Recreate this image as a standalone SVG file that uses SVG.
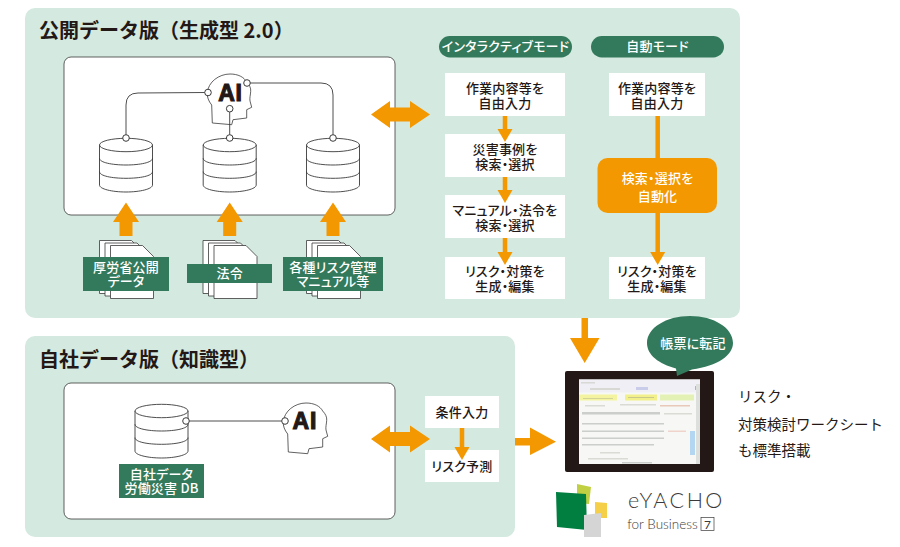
<svg xmlns="http://www.w3.org/2000/svg" xmlns:xlink="http://www.w3.org/1999/xlink" width="900" height="547" viewBox="0 0 900 547">
<style>
text{font-family:"Noto Sans CJK JP","Noto Sans",sans-serif;text-anchor:middle}
.panel{fill:#d4e9e0}
.white{fill:#fff;stroke:#3a3a3a;stroke-width:.8}
.box{fill:#fff}
.t{font-size:13px;font-weight:500;fill:#231815;font-feature-settings:"palt";letter-spacing:.2px}
.w{font-size:13px;font-weight:500;fill:#fff;font-feature-settings:"palt";letter-spacing:.2px}
.title{font-size:20px;font-weight:700;fill:#231815;text-anchor:start}
.label{fill:#337a5c}
.o{fill:#f39800}
.ol{stroke:#f39800;stroke-width:4.5;fill:none}
.ln{fill:none;stroke:#3a3a3a;stroke-width:.9}
.pt{fill:#fff;stroke:#3a3a3a;stroke-width:1}
.db{fill:#fff;stroke:#3a3a3a;stroke-width:.9}
.doc{fill:#fff;stroke:#3a3a3a;stroke-width:.8}
.ai{font-family:"Liberation Sans",sans-serif;font-size:23px;font-weight:700;fill:#231815;stroke:#231815;stroke-width:1.1;letter-spacing:.8px}
.side{font-size:14.500px;fill:#231815;text-anchor:start}
.r{fill:#8a8f8a;opacity:.4}
.c{fill:#c8c8c0;opacity:.6}
</style>
<defs>
<g id="dbs">
<path class="db" d="M-26.5 7V47C-26.5 51 -14 54 0 54S26.5 51 26.5 47V7Z"/>
<ellipse class="db" cx="0" cy="7" rx="26.5" ry="6.7"/>
<path class="ln" d="M-26.5 20.3C-26.5 24.5 -14 27 0 27S26.5 24.5 26.5 20.3M-26.5 33.6C-26.5 38 -14 40.3 0 40.3S26.5 38 26.5 33.6"/>
</g>
<path id="head" class="doc" d="M212.300 123L211.700 105C208.500 101 207 97 207.300 93C208 82 219 74 230 74C238 74 244 77 246.700 82C249.500 85 251 88 250.700 91.300C250.500 95 249.500 98 250 101L251.700 107.300L246.700 109.700L246.700 118L233 119.700L231.700 124.700Z"/>
<path id="paper" class="doc" d="M0 0H32L43 11V53H0Z"/>
<g id="docs">
<use xlink:href="#paper" x="0" y="0"/>
<use xlink:href="#paper" x="5.500" y="2.500"/>
<use xlink:href="#paper" x="11" y="5"/>
</g>
<path id="up" class="o" d="M0 0L13 19.500H6.500V33.500H-6.500V19.500H-13Z"/>
<path id="dbl" class="o" d="M0 13.500L19 0V6.500H39V0L59 13.500L39 27V20.500H19V27Z"/>
<path id="dn" class="o" d="M-7.500 0H7.500L0 13Z"/>
</defs>

<g id="panel-public">
<rect class="panel" x="25" y="8" width="715" height="310" rx="10"/>
<text class="title" x="39" y="38">公開データ版（生成型 2.0）</text>
<rect class="white" x="64" y="57" width="331" height="158" rx="7"/>
</g>
<g id="panel-own">
<rect class="panel" x="25" y="336" width="490" height="201" rx="10"/>
<text class="title" x="39" y="367">自社データ版（知識型）</text>
<rect class="white" x="64" y="383" width="331" height="136" rx="7"/>
</g>

<g id="ai-public">
<use xlink:href="#head"/>
<text class="ai" x="230.500" y="101">AI</text>
<circle class="pt" cx="208" cy="92.500" r="3.300"/>
<circle class="pt" cx="229.700" cy="108.700" r="3.300"/>
<circle class="pt" cx="247" cy="83" r="3.300"/>
</g>
<g id="db-1"><use xlink:href="#dbs" x="126" y="138"/><circle class="pt" cx="126" cy="138" r="3.300"/></g>
<g id="db-2"><use xlink:href="#dbs" x="229.700" y="138"/><circle class="pt" cx="229.700" cy="138" r="3.300"/></g>
<g id="db-3"><use xlink:href="#dbs" x="333" y="138"/><circle class="pt" cx="333" cy="138" r="3.300"/></g>

<g id="doc-1">
<use xlink:href="#docs" x="99.500" y="240.500"/>
<rect class="label" x="83" y="257" width="86" height="34"/>
<text class="w"><tspan x="126" y="271.500">厚労省公開</tspan><tspan x="126" y="286">データ</tspan></text>
</g>
<g id="doc-2">
<use xlink:href="#docs" x="203" y="240.500"/>
<rect class="label" x="187" y="264" width="85" height="19"/>
<text class="w" x="229.700" y="278">法令</text>
</g>
<g id="doc-3">
<use xlink:href="#docs" x="306.500" y="240.500"/>
<rect class="label" x="283" y="257" width="100" height="34"/>
<text class="w"><tspan x="333" y="271.500">各種リスク管理</tspan><tspan x="333" y="286">マニュアル等</tspan></text>
</g>

<g id="mode-interactive"><rect class="label" x="439" y="36" width="133" height="21.500" rx="10.700"/><text class="w" x="505.500" y="51">インタラクティブモード</text></g>
<g id="mode-auto"><rect class="label" x="591" y="36" width="133" height="21.500" rx="10.700"/><text class="w" x="657.500" y="51">自動モード</text></g>

<g id="i1"><rect class="box" x="445" y="73" width="120" height="43"/><text class="t"><tspan x="505" y="93">作業内容等を</tspan><tspan x="505" y="108">自由入力</tspan></text></g>
<g id="i2"><rect class="box" x="445" y="134" width="120" height="43"/><text class="t"><tspan x="505" y="154">災害事例を</tspan><tspan x="505" y="169">検索・選択</tspan></text></g>
<g id="i3"><rect class="box" x="445" y="195" width="120" height="43"/><text class="t"><tspan x="505" y="215">マニュアル・法令を</tspan><tspan x="505" y="230">検索・選択</tspan></text></g>
<g id="i4"><rect class="box" x="445" y="257" width="120" height="42"/><text class="t"><tspan x="505" y="276">リスク・対策を</tspan><tspan x="505" y="291">生成・編集</tspan></text></g>

<g id="a1"><rect class="box" x="609" y="73" width="96" height="43"/><text class="t"><tspan x="657" y="93">作業内容等を</tspan><tspan x="657" y="108">自由入力</tspan></text></g>
<g id="a2"><rect class="o" x="597.500" y="158" width="119.500" height="55" rx="10"/><text class="w"><tspan x="657.500" y="183">検索・選択を</tspan><tspan x="657.500" y="201">自動化</tspan></text></g>
<g id="a3"><rect class="box" x="609" y="257" width="96" height="42"/><text class="t"><tspan x="657" y="276">リスク・対策を</tspan><tspan x="657" y="291">生成・編集</tspan></text></g>

<g id="db-own">
<use xlink:href="#dbs" x="161.500" y="404"/>
<circle class="pt" cx="186" cy="421" r="3.300"/>
<rect class="label" x="119" y="464" width="85" height="34"/>
<text class="w"><tspan x="161.500" y="478.500">自社データ</tspan><tspan x="161.500" y="493">労働災害 DB</tspan></text>
</g>
<g id="ai-own">
<use xlink:href="#head" x="76" y="329"/>
<text class="ai" x="304.800" y="428.500">AI</text>
<circle class="pt" cx="285" cy="421" r="3.300"/>
</g>
<g id="b1"><rect class="box" x="425" y="396" width="74" height="32"/><text class="t" x="462" y="417">条件入力</text></g>
<g id="b2"><rect class="box" x="425" y="450" width="74" height="32"/><text class="t" x="462" y="471">リスク予測</text></g>

<g id="tablet">
<rect x="565" y="371" width="149" height="101" rx="2" fill="#231815"/>
<rect x="579" y="379.500" width="121" height="84.500" fill="#f7f8f5"/>
<rect x="579" y="379.500" width="121" height="13" fill="#f0eff6"/>
<rect class="c" x="581" y="382" width="14" height="1.500"/>
<rect class="c" x="590" y="388" width="30" height="2"/>
<rect x="636" y="387" width="12" height="3" fill="#c9cdea"/>
<rect x="695" y="386" width="4" height="4" fill="#8fd08a"/>
<rect x="579" y="394.500" width="38" height="6" fill="#f3f3a0"/>
<rect x="625" y="394.500" width="32" height="6" fill="#f2f08a"/>
<rect x="660" y="394.500" width="34" height="6" fill="#e3f2b4"/>
<rect class="r" x="583" y="398" width="30" height=".8"/>
<rect class="r" x="628" y="397" width="26" height="1"/>
<rect class="c" x="585" y="405" width="20" height="1.500"/>
<rect class="c" x="620" y="404" width="36" height="1.500"/>
<rect x="660" y="405" width="30" height="1.500" fill="#e8c8b8"/>
<rect class="r" x="582" y="412" width="78" height="2.500"/>
<rect class="c" x="664" y="413" width="28" height="1.500"/>
<rect class="r" x="582" y="423" width="82" height="1.500"/>
<rect class="r" x="582" y="430.500" width="82" height="1.500"/>
<rect class="r" x="582" y="437.500" width="82" height="1.500"/>
<rect class="r" x="582" y="444" width="72" height="1.500"/>
<rect x="668" y="430.500" width="18" height="1.500" fill="#f0d4cc"/>
<rect class="c" x="600" y="452" width="20" height="1.500"/>
<rect class="c" x="588" y="458" width="40" height="1.500"/>
<rect class="r" x="622" y="462" width="30" height="1.500"/>
<rect x="690" y="431" width="5" height="24" fill="#b4d6f0"/>
<rect x="696" y="384" width="4" height="80" fill="#dcdfdc"/>
</g>
<g id="bubble">
<path class="label" d="M676 368.500C659 364 647 355 647 343C647 328 666 316 690 316S733 328 733 343C733 355 718 366 692 369.500L677 376Z"/>
<text class="w" x="693" y="348">帳票に転記</text>
</g>
<g id="side-note">
<text class="side"><tspan x="738" y="402">リスク・</tspan><tspan x="738" y="430">対策検討ワークシート</tspan><tspan x="738" y="456">も標準搭載</tspan></text>
</g>
<g id="logo">
<path fill="#c1d043" d="M577 484L591 487L589 504L577 503Z"/>
<path fill="#007f41" d="M556 492L586 494L587 530L557 527Z"/>
<path fill="#f5cf47" d="M595 502L607 503L607 518L595 518Z"/>
<path fill="#d5d5d5" d="M584 515L601 513L601 537L584 537Z"/>
<text x="676.500" y="508" style="font-family:Lato,sans-serif;font-size:21.500px;font-weight:300;letter-spacing:2.500px;fill:#3a3a3a">eYACHO</text>
<text x="662.500" y="529" style="font-family:Lato,sans-serif;font-size:13.500px;font-weight:300;fill:#3a3a3a">for Business</text>
<rect x="701" y="517.500" width="13" height="13" fill="none" stroke="#3a3a3a" stroke-width=".7"/>
<text x="707.500" y="529" style="font-family:Lato,sans-serif;font-size:12px;fill:#3a3a3a">7</text>
</g>

<g id="connectors">
<path class="ln" d="M126 134.700V105Q126 93 138 93L204.700 92.500"/>
<path class="ln" d="M250.300 83H321Q333 83 333 95V134.700"/>
<path class="ln" d="M229.700 134.700V112"/>
<path class="ln" d="M189.300 421L281.700 421"/>
<use xlink:href="#up" x="126" y="202.500"/>
<use xlink:href="#up" x="229.700" y="202.500"/>
<use xlink:href="#up" x="333" y="202.500"/>
<use xlink:href="#dbl" x="371" y="101"/>
<use xlink:href="#dbl" x="371" y="425.500"/>
<path class="ol" d="M505 116V130M505 177V191M505 238V253M657.700 116V158M657.700 213V253M462 428V447"/>
<use xlink:href="#dn" x="505" y="129"/>
<use xlink:href="#dn" x="505" y="190"/>
<use xlink:href="#dn" x="505" y="252"/>
<use xlink:href="#dn" x="657.700" y="252"/>
<use xlink:href="#dn" x="462" y="447"/>
<path class="o" d="M581.500 318H588V338H599.500L584.700 363L570 338H581.500Z"/>
<path class="o" d="M515 438H530V427.500L556 441.700L530 455V445.500H515Z"/>
</g>
</svg>
